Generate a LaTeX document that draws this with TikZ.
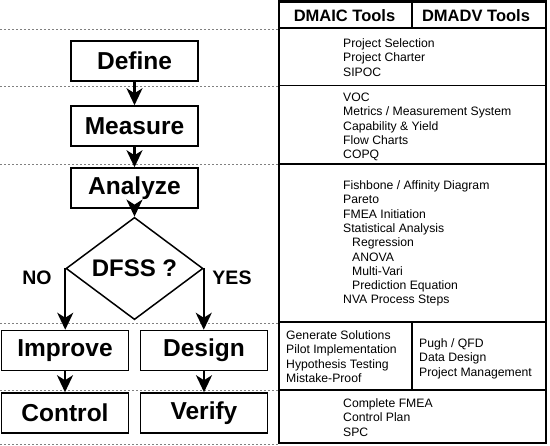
\documentclass[tikz,border=0pt]{standalone}
\usepackage{fontspec}
\setmainfont{Liberation Sans}
\usetikzlibrary{arrows.meta,shapes.geometric}
\begin{document}
\begin{tikzpicture}[x=1pt,y=-1pt,
  stepbox/.style={draw, line width=1.5pt, minimum width=127pt, minimum height=40pt, inner sep=0pt, font=\fontsize{24.5}{28}\selectfont\bfseries},
  decision/.style={diamond, draw, line width=1.5pt, minimum width=137pt, minimum height=75pt, inner sep=0pt, font=\fontsize{24}{28}\selectfont\bfseries},
  branch/.style={inner sep=0pt, font=\fontsize{19.5}{22}\selectfont\bfseries},
  conn/.style={line width=2.2pt, -{Stealth[length=17pt,width=16pt,inset=5pt]}},
  guide/.style={gray, line width=0.8pt, dash pattern=on 2pt off 2pt},
  hdr/.style={inner sep=0pt, font=\fontsize{16.5}{19}\selectfont\bfseries},
  tools/.style={anchor=north west, inner sep=0pt, align=left, font=\fontsize{12.2}{14.3}\selectfont},
  frame/.style={line width=2.5pt},
  rule/.style={line width=1.8pt}]
\useasboundingbox (0,0) rectangle (550,446);
% dotted guide lines
\foreach \yy in {29,86,164,323,390,444}
  \draw[guide] (0,\yy) -- (279,\yy);
% flowchart
\node[stepbox] (def) at (134.5,61) {Define};
\node[stepbox] (mea) at (134.5,126) {Measure};
\node[stepbox] (ana) at (134.5,188) {Analyze};
\node[decision] (dfss) at (134.5,268.5) {DFSS ?};
\node[stepbox] (imp) at (65,350.5) {Improve};
\node[stepbox] (des) at (204,350.5) {Design};
\node[stepbox] (con) at (65,413) {Control};
\node[stepbox] (ver) at (204,413) {Verify};
\node[branch] (no) at (37,278) {NO};
\node[branch] (yes) at (232,278) {YES};
\draw[conn] (def) -- (mea);
\draw[conn] (mea) -- (ana);
\draw[conn] (ana) -- (dfss);
\draw[conn] (dfss.west) -- (dfss.west |- imp.north);
\draw[conn] (dfss.east) -- (dfss.east |- des.north);
\draw[conn] (imp) -- (con);
\draw[conn] (des) -- (ver);
% table
\draw[frame] (279,1.5) rectangle (546,443);
\draw[rule] (279,28) -- (546,28);
\draw[rule] (279,85.5) -- (546,85.5);
\draw[rule] (279,164) -- (546,164);
\draw[rule] (279,322) -- (546,322);
\draw[rule] (279,390) -- (546,390);
\draw[rule] (412,1.5) -- (412,28);
\draw[rule] (412,322) -- (412,390);
\node[hdr] (h1) at (344.5,15.5) {DMAIC Tools};
\node[hdr] (h2) at (476,15.5) {DMADV Tools};
\node[tools] (tdef) at (343,38.5) {Project Selection\\Project Charter\\SIPOC};
\node[tools] (tmea) at (343,92.7) {VOC\\Metrics / Measurement System\\Capability \& Yield\\Flow Charts\\COPQ};
\node[tools] (tana) at (343,180.5) {Fishbone / Affinity Diagram\\Pareto\\FMEA Initiation\\Statistical Analysis\\\hspace*{9pt}Regression\\\hspace*{9pt}ANOVA\\\hspace*{9pt}Multi-Vari\\\hspace*{9pt}Prediction Equation\\NVA Process Steps};
\node[tools] (timp) at (286,330.5) {Generate Solutions\\Pilot Implementation\\Hypothesis Testing\\Mistake-Proof};
\node[tools] (tdes) at (419,338.5) {Pugh / QFD\\Data Design\\Project Management};
\node[tools] (tcon) at (343,398.5) {Complete FMEA\\Control Plan\\SPC};
\end{tikzpicture}
\end{document}
